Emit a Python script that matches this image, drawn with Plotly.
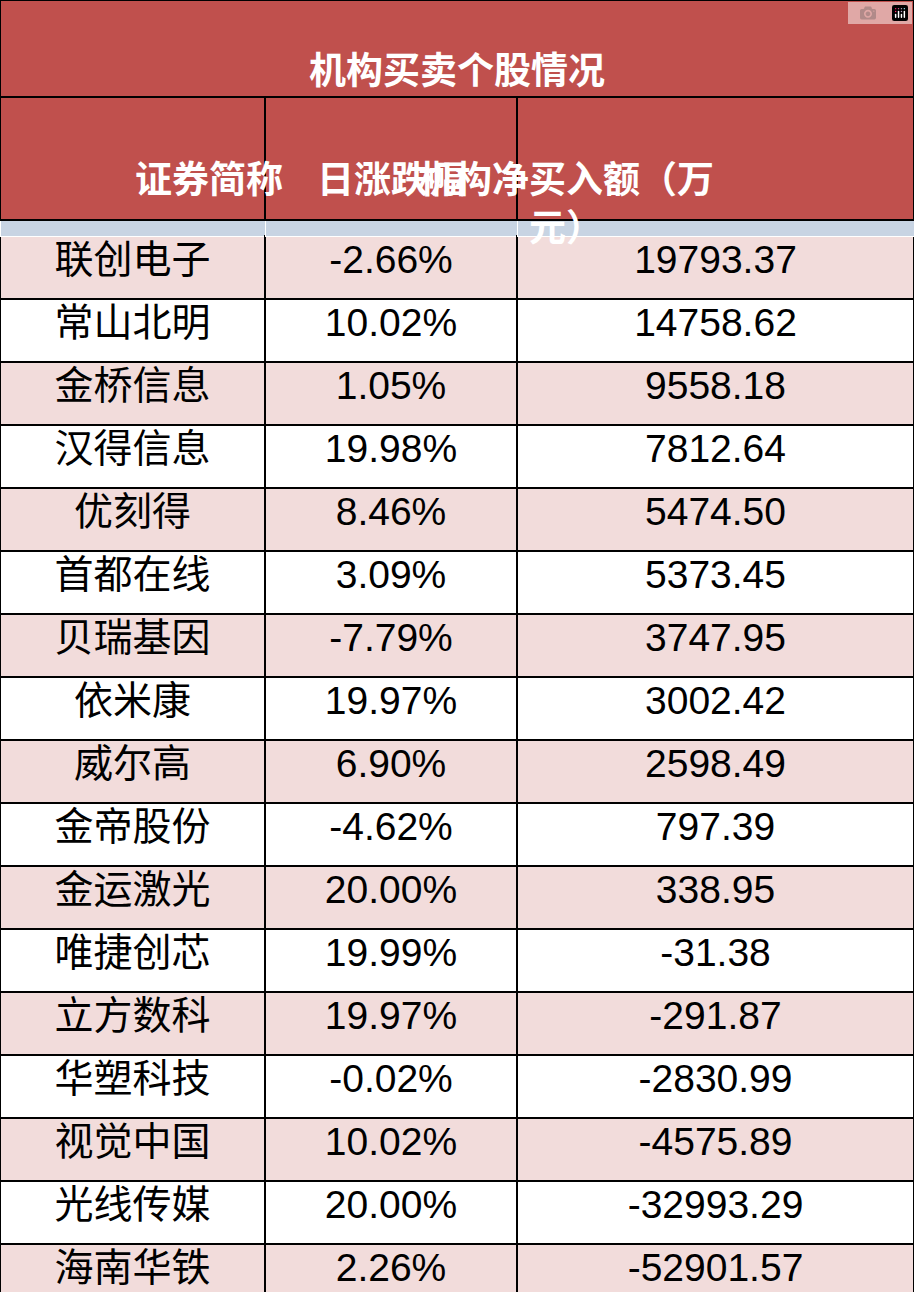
import plotly.graph_objects as go

title = "机构买卖个股情况"
headers = ["证券简称", "日涨跌幅", "机构净买入额（万<br>元）"]
names = ["联创电子", "常山北明", "金桥信息", "汉得信息", "优刻得", "首都在线", "贝瑞基因", "依米康",
         "威尔高", "金帝股份", "金运激光", "唯捷创芯", "立方数科", "华塑科技", "视觉中国", "光线传媒", "海南华铁"]
changes = ["-2.66%", "10.02%", "1.05%", "19.98%", "8.46%", "3.09%", "-7.79%", "19.97%",
           "6.90%", "-4.62%", "20.00%", "19.99%", "19.97%", "-0.02%", "10.02%", "20.00%", "2.26%"]
net_buy = ["19793.37", "14758.62", "9558.18", "7812.64", "5474.50", "5373.45", "3747.95", "3002.42",
           "2598.49", "797.39", "338.95", "-31.38", "-291.87", "-2830.99", "-4575.89", "-32993.29", "-52901.57"]

W, H = 914, 1292
title_h = 97
head_h = 123
col_w = [265, 252, 397]
red = "#C0504D"
pink = "#F2DCDB"
font = "Liberation Sans, Noto Sans CJK SC"

row_colors = [pink if i % 2 == 0 else "white" for i in range(len(names))]

fig = go.Figure(go.Table(
    columnwidth=col_w,
    domain=dict(x=[0, 1], y=[0, (H - title_h - head_h) / H]),
    header=dict(values=[]),
    cells=dict(
        values=[names, changes, net_buy],
        fill_color=[row_colors] * 3, line=dict(color="black", width=2),
        font=dict(family=font, size=39, color="black"),
        align="center", height=63,
    ),
))

line = dict(color="black", width=2)
fig.add_shape(type="rect", xref="paper", yref="paper", x0=0, x1=1,
              y0=1 - title_h / H, y1=1, fillcolor=red, line=line)
fig.add_annotation(text=f"<b>{title}</b>", xref="paper", yref="paper", x=0.5,
                   y=1 - title_h / 2 / H, showarrow=False,
                   font=dict(family=font, size=37, color="white"))

x = 0
for w, h in zip(col_w, headers):
    x0, x1 = x / W, (x + w) / W
    fig.add_shape(type="rect", xref="paper", yref="paper", x0=x0, x1=x1,
                  y0=1 - (title_h + head_h) / H, y1=1 - title_h / H,
                  fillcolor=red, line=line)
    fig.add_annotation(text=f"<b>{h}</b>", xref="paper", yref="paper", x=(x0 + x1) / 2,
                       y=1 - (title_h + head_h / 2) / H, showarrow=False,
                       font=dict(family=font, size=37, color="white"))
    x += w

fig.update_layout(width=W, height=H, margin=dict(l=0, r=0, t=0, b=0),
                  paper_bgcolor="white")
fig.write_html("out.html", post_script="document.body.style.margin='0';")
